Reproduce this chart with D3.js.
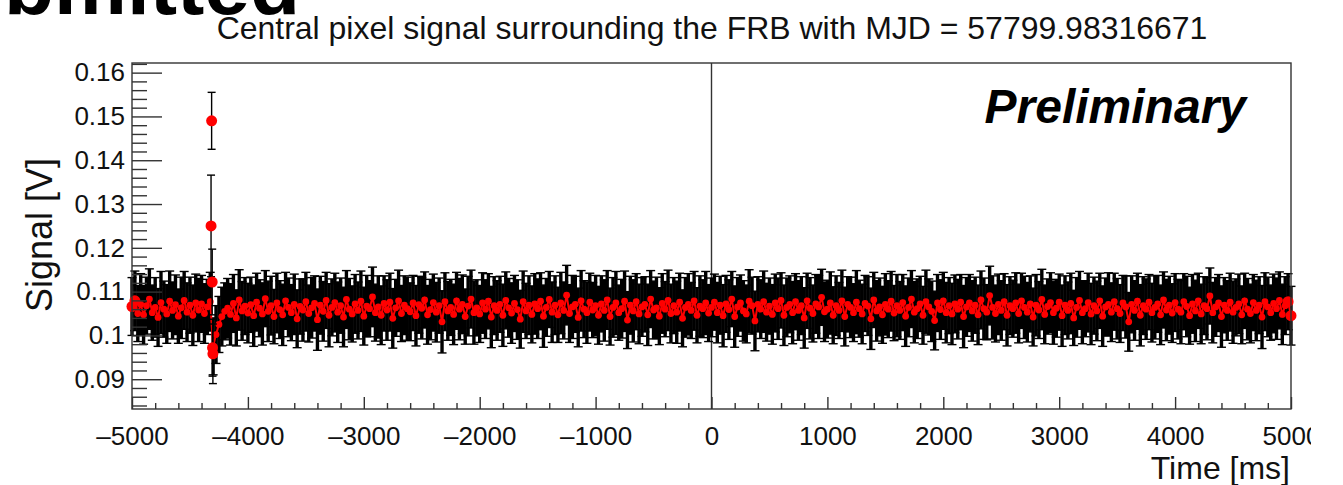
<!DOCTYPE html>
<html>
<head>
<meta charset="utf-8">
<script src="https://cdn.jsdelivr.net/npm/d3@7"></script>
<style>
  html, body { margin: 0; padding: 0; background: #fff; overflow: hidden; }
  text { font-family: "Liberation Sans", Arial, Helvetica, sans-serif; fill: #111; }
</style>
</head>
<body>
<svg id="chart" width="1311" height="485"></svg>
<script>
// ---- Central pixel trace: sampled every 25 ms from -5000 ms, signal in units of 0.1 mV ----
const sampleStart = -5000;
const sampleStep = 25;

const signal = [
  1066,1079,1050,1071,1047,1068,1083,1052,1064,1041,1075,1060,1049,1078,1057,1070,1044,1063,1080,1053,
  1069,1046,1074,1058,1072,1050,1065,1077,975,1002,1025,1043,1055,1062,1048,1073,1040,1081,1056,1067,
  1051,1070,1045,1076,1062,1049,1084,1055,1068,1043,1074,1059,1047,1079,1064,1052,1071,1038,1066,1058,
  1077,1050,1063,1073,1036,1069,1055,1080,1046,1064,1075,1053,1068,1042,1082,1060,1049,1072,1057,1078,
  1044,1067,1061,1088,1052,1065,1046,1073,1058,1076,1039,1063,1079,1050,1069,1061,1054,1074,1045,1070,
  1062,1081,1047,1059,1075,1053,1068,1031,1077,1056,1064,1048,1079,1060,1071,1043,1067,1083,1052,1063,
  1049,1074,1060,1078,1042,1068,1057,1071,1046,1080,1063,1051,1073,1059,1037,1077,1056,1069,1048,1072,
  1061,1078,1044,1064,1082,1053,1069,1047,1074,1057,1092,1050,1065,1071,1041,1079,1060,1052,1076,1058,
  1068,1046,1072,1057,1081,1043,1064,1074,1052,1061,1078,1035,1069,1056,1077,1049,1065,1071,1047,1083,
  1058,1063,1044,1073,1060,1080,1050,1068,1053,1076,1039,1064,1071,1057,1079,1046,1067,1061,1074,1051,
  1064,1076,1052,1069,1045,1072,1059,1083,1043,1065,1074,1056,1049,1078,1068,1033,1071,1060,1077,1053,
  1067,1048,1074,1061,1080,1046,1064,1071,1052,1077,1057,1068,1040,1079,1062,1050,1072,1065,1087,1054,
  1060,1074,1046,1068,1057,1079,1043,1071,1064,1052,1076,1061,1049,1073,1067,1038,1081,1056,1065,1047,
  1071,1060,1078,1051,1068,1057,1075,1044,1064,1083,1053,1061,1072,1046,1077,1065,1055,1034,1074,1059,
  1079,1052,1068,1049,1072,1060,1076,1043,1065,1074,1056,1069,1047,1081,1061,1053,1091,1064,1050,1071,
  1057,1077,1046,1068,1061,1074,1050,1079,1064,1053,1072,1042,1069,1058,1082,1048,1066,1075,1052,1062,
  1076,1045,1069,1057,1073,1040,1064,1080,1052,1061,1075,1049,1068,1056,1079,1044,1065,1071,1053,1077,
  1061,1050,1074,1065,1031,1071,1057,1078,1046,1068,1060,1076,1052,1064,1072,1047,1081,1058,1069,1051,
  1075,1060,1053,1077,1066,1045,1072,1056,1079,1049,1068,1061,1090,1052,1065,1074,1043,1069,1057,1076,
  1053,1064,1072,1047,1079,1060,1050,1075,1057,1069,1042,1077,1065,1052,1073,1061,1080,1048,1068,1077,
  1045
];

const signalErr = [
  66,68,64,70,67,65,69,63,68,66,71,64,67,69,65,68,62,70,66,67,
  64,69,66,72,65,68,63,67,65,66,64,67,65,68,70,66,64,69,67,65,
  68,63,70,66,65,71,64,69,67,62,68,66,70,65,67,64,69,66,63,71,
  67,65,69,63,70,66,68,64,72,65,67,69,63,68,66,70,64,67,65,69,
  66,70,64,68,65,71,67,63,69,66,68,65,70,64,67,72,66,63,69,65,
  70,64,67,69,65,68,63,71,66,67,64,69,65,70,67,63,68,66,72,64,
  65,69,67,63,70,66,68,64,71,65,67,69,64,68,66,70,63,67,65,69,
  68,65,71,66,64,69,67,63,70,65,68,66,72,64,67,69,65,70,66,63,
  69,66,64,70,67,65,68,72,63,67,69,65,66,71,64,68,67,63,70,65,
  66,70,65,68,63,69,67,64,71,66,65,68,70,64,67,63,69,66,72,65,
  67,64,69,66,71,65,68,63,70,67,64,69,66,72,65,68,63,67,70,66,
  64,68,66,70,63,69,67,65,71,64,68,66,69,63,70,65,67,72,64,68,
  66,71,65,68,64,70,67,63,69,66,72,65,68,64,67,70,63,69,66,65,
  70,65,68,63,71,66,64,69,67,65,70,68,63,66,72,64,69,67,65,68,
  65,69,64,70,66,68,63,71,67,65,69,64,68,66,70,63,67,72,65,69,
  68,64,70,66,65,69,67,63,71,68,64,66,70,65,69,67,63,68,72,66,
  64,70,67,65,69,63,68,66,71,64,67,70,65,68,63,69,66,72,67,65,
  69,66,63,71,67,65,68,64,70,66,69,63,67,72,65,68,64,70,66,67,
  66,68,72,64,69,65,67,70,63,68,66,71,64,69,67,65,70,63,68,66,
  71,65,68,66,63,70,67,64,69,65,72,66,68,63,67,70,65,69,66,64,
  67
];

// ---- Transient (FRB arrival), finely sampled ----
const burstTime   = [-4318, -4313, -4308, -4305, -4302];
const burstSignal = [0.1250, 0.1490, 0.1122, 0.0972, 0.0958];
const burstErr    = [0.0116, 0.0065, 0.0075, 0.0065, 0.0068];

// ---- Axes ----
const xMajorTicks = [-5000, -4000, -3000, -2000, -1000, 0, 1000, 2000, 3000, 4000, 5000];
const xTickLabels = ["\u20135000", "\u20134000", "\u20133000", "\u20132000", "\u20131000", "0", "1000", "2000", "3000", "4000", "5000"];
const yMajorTicks = [0.09, 0.10, 0.11, 0.12, 0.13, 0.14, 0.15, 0.16];
const yTickLabels = ["0.09", "0.1", "0.11", "0.12", "0.13", "0.14", "0.15", "0.16"];

const titleText = "Central pixel signal surrounding the FRB with MJD = 57799.98316671";

// ---------------------------------------------------------------------------
const frame = { left: 132, right: 1291, top: 63, bottom: 409 };
const svg = d3.select("#chart");

const x = d3.scaleLinear().domain([-5000, 5000]).range([frame.left, frame.right]);
const y = d3.scaleLinear().domain([0.0832, 0.1622]).range([frame.bottom, frame.top]);

const trace = signal.map((v, i) => ({
  t: sampleStart + i * sampleStep,
  v: v / 10000,
  e: signalErr[i] / 10000
}));
const burst = burstTime.map((t, i) => ({ t, v: burstSignal[i], e: burstErr[i] }));

// cropped heading line above the plot
svg.append("text")
  .attr("x", 300).attr("y", 14)
  .attr("text-anchor", "end")
  .style("font-size", "82px").style("font-weight", "bold")
  .style("fill", "#000")
  .text("Submitted");

// title
const title = svg.append("text")
  .attr("x", 712).attr("y", 39)
  .attr("text-anchor", "middle")
  .style("font-size", "27px")
  .text(titleText);
const tw = title.node().getComputedTextLength();
title.style("font-size", (27 * 991 / tw).toFixed(2) + "px");

// t = 0 marker line
svg.append("line")
  .attr("x1", x(0)).attr("x2", x(0))
  .attr("y1", frame.top).attr("y2", frame.bottom)
  .attr("stroke", "#333").attr("stroke-width", 1.4);

const plot = svg.append("g");

function errorBars(g, data, width, cap) {
  const bars = g.selectAll(null).data(data).enter().append("g")
    .attr("stroke", "#000").attr("stroke-width", width);
  bars.append("line")
    .attr("x1", d => x(d.t)).attr("x2", d => x(d.t))
    .attr("y1", d => y(d.v + d.e)).attr("y2", d => y(d.v - d.e));
  bars.append("line")
    .attr("x1", d => x(d.t) - cap).attr("x2", d => x(d.t) + cap)
    .attr("y1", d => y(d.v + d.e)).attr("y2", d => y(d.v + d.e))
    .attr("stroke-width", 1.4);
  bars.append("line")
    .attr("x1", d => x(d.t) - cap).attr("x2", d => x(d.t) + cap)
    .attr("y1", d => y(d.v - d.e)).attr("y2", d => y(d.v - d.e))
    .attr("stroke-width", 1.4);
}

errorBars(plot, trace, 3.4, 4.5);

// signal trace: connecting line plus a marker on every sample
plot.append("path")
  .datum(trace)
  .attr("fill", "none")
  .attr("stroke", "#ff0000")
  .attr("stroke-width", 2)
  .attr("stroke-linejoin", "miter")
  .attr("d", d3.line().x(d => x(d.t)).y(d => y(d.v)));

plot.selectAll("circle.s").data(trace).enter().append("circle")
  .attr("class", "s")
  .attr("cx", d => x(d.t)).attr("cy", d => y(d.v))
  .attr("r", 3.4).attr("fill", "#ff0000");

errorBars(plot, burst, 1.4, 4);

const marked = [trace[0], trace[1], trace[trace.length - 2], trace[trace.length - 1]].concat(burst);
plot.selectAll("circle.m").data(marked).enter().append("circle")
  .attr("class", "m")
  .attr("cx", d => x(d.t)).attr("cy", d => y(d.v))
  .attr("r", 5.5).attr("fill", "#ff0000");

// frame
svg.append("rect")
  .attr("x", frame.left).attr("y", frame.top)
  .attr("width", frame.right - frame.left).attr("height", frame.bottom - frame.top)
  .attr("fill", "none").attr("stroke", "#333").attr("stroke-width", 1.4);

// x axis (ticks point inward)
const xMinor = d3.range(-5000, 5001, 200).filter(v => v % 1000 !== 0);
const gxMinor = svg.append("g").attr("transform", `translate(0,${frame.bottom})`)
  .call(d3.axisBottom(x).tickValues(xMinor).tickSize(-6).tickFormat(""));
const gx = svg.append("g").attr("transform", `translate(0,${frame.bottom})`)
  .call(d3.axisBottom(x).tickValues(xMajorTicks).tickSize(-12).tickPadding(18)
    .tickFormat((d, i) => xTickLabels[i]));

// y axis (ticks point inward)
const yMinor = d3.range(0.084, 0.1621, 0.002).filter(v => Math.abs(v * 100 - Math.round(v * 100)) > 1e-6);
const gyMinor = svg.append("g").attr("transform", `translate(${frame.left},0)`)
  .call(d3.axisLeft(y).tickValues(yMinor).tickSize(-15).tickFormat(""));
const gy = svg.append("g").attr("transform", `translate(${frame.left},0)`)
  .call(d3.axisLeft(y).tickValues(yMajorTicks).tickSize(-30).tickPadding(7)
    .tickFormat((d, i) => yTickLabels[i]));

[gxMinor, gx, gyMinor, gy].forEach(g => {
  g.select(".domain").remove();
  g.selectAll(".tick line").attr("stroke", "#333").attr("stroke-width", 1.4);
  g.selectAll(".tick text").style("font-size", "26px").style("font-family", "Liberation Sans, Arial, sans-serif").attr("fill", "#111");
});

// axis titles
svg.append("text")
  .attr("x", 1290).attr("y", 479)
  .attr("text-anchor", "end")
  .style("font-size", "32px")
  .text("Time [ms]");

svg.append("text")
  .attr("transform", "translate(52,158) rotate(-90)")
  .attr("text-anchor", "end")
  .style("font-size", "36px")
  .text("Signal [V]");

// label
svg.append("text")
  .attr("x", 1246).attr("y", 123)
  .attr("text-anchor", "end")
  .style("font-size", "48px").style("font-weight", "bold").style("font-style", "italic")
  .style("fill", "#000")
  .text("Preliminary");
</script>
</body>
</html>
